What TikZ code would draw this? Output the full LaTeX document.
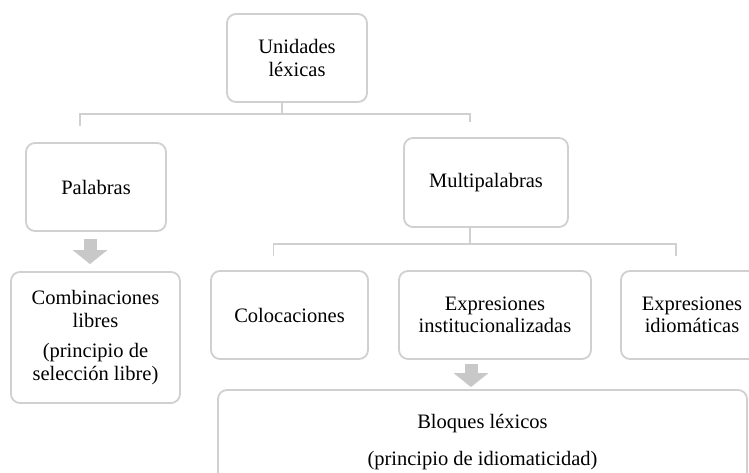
\documentclass[tikz,border=0pt]{standalone}
\usepackage{fontspec}
\setmainfont{Liberation Serif}
\usetikzlibrary{positioning,arrows.meta}

\definecolor{boxgray}{RGB}{208,208,208}
\definecolor{arrowgray}{RGB}{200,200,200}

\tikzset{
    unit/.style={draw=boxgray, line width=1.8pt, rounded corners=9pt, fill=white,
        align=center, inner sep=0pt, font=\fontsize{20.5}{22.5}\selectfont},
    branch/.style={draw=boxgray, line width=1.8pt},
    fatarrow/.style={draw=arrowgray, line width=13pt, -{Triangle[width=34pt,length=14pt]}}
}

\begin{document}
\begin{tikzpicture}[x=1pt, y=-1pt]
    \useasboundingbox (0,0) rectangle (749,473);

    % Top level
    \node[unit, minimum width=140pt, minimum height=88pt] (unid) at (297, 58) {Unidades\\léxicas};

    % Second level
    \node[unit, minimum width=140pt, minimum height=88pt] (pal) at (96, 187) {Palabras};
    \node[unit, minimum width=164pt, minimum height=89pt] (multi) at (486, 182.5) {Multipalabras};

    % Third level
    \node[unit, minimum width=169pt, minimum height=131pt] (comb) at (95.5, 337.5)
        {Combinaciones\\libres\\[8pt](principio de\\selección libre)};
    \node[unit, minimum width=157pt, minimum height=88pt] (coloc) at (289.5, 315) {Colocaciones};
    \node[unit, minimum width=192pt, minimum height=88pt] (inst) at (495, 315) {Expresiones\\institucionalizadas};
    \node[unit, minimum width=142pt, minimum height=88pt] (idiom) at (692, 315) {Expresiones\\idiomáticas};

    % Bottom block
    \node[unit, minimum width=529pt, minimum height=104pt] (bloq) at (482.5, 442)
        {Bloques léxicos\\[14pt](principio de idiomaticidad)};

    % Branches from Unidades léxicas
    \draw[branch] ([xshift=-15pt]unid.south) -- ++(0,11) coordinate (ubar);
    \draw[branch] ([xshift=-16pt, yshift=16pt]pal.north) |- (ubar) -| ([xshift=-16pt, yshift=15pt]multi.north);

    % Branches from Multipalabras
    \draw[branch] ([xshift=-16pt]multi.south) -- ++(0,16) coordinate (mbar);
    \draw[branch] ([xshift=-16pt, yshift=14pt]coloc.north) |- (mbar) -| ([xshift=-16pt, yshift=14pt]idiom.north);

    % Block arrows
    \draw[fatarrow] ([xshift=-6pt, yshift=-7pt]pal.south) -- ([xshift=-6pt, yshift=7pt]comb.north -| pal.south);
    \draw[fatarrow] ([xshift=-24pt, yshift=-4pt]inst.south) -- ([xshift=-24pt, yshift=2pt]bloq.north -| inst.south);
\end{tikzpicture}
\end{document}
